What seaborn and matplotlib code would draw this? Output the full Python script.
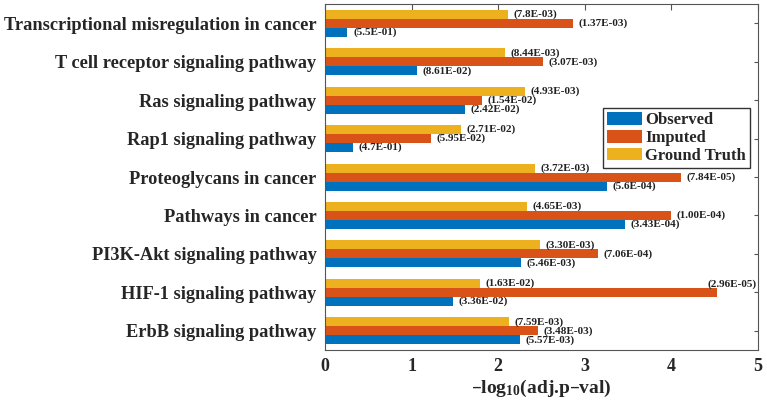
import numpy as np
import pandas as pd
import matplotlib
matplotlib.use("Agg")
import matplotlib.pyplot as plt
import seaborn as sns

# KEGG pathways, listed top to bottom as in the chart
pathways = [
    "Transcriptional misregulation in cancer",
    "T cell receptor signaling pathway",
    "Ras signaling pathway",
    "Rap1 signaling pathway",
    "Proteoglycans in cancer",
    "Pathways in cancer",
    "PI3K-Akt signaling pathway",
    "HIF-1 signaling pathway",
    "ErbB signaling pathway",
]

# adjusted p-values as printed next to the bars
pval_observed = ["5.5E-01", "8.61E-02", "2.42E-02", "4.7E-01", "5.6E-04",
                 "3.43E-04", "5.46E-03", "3.36E-02", "5.57E-03"]
pval_imputed = ["1.37E-03", "3.07E-03", "1.54E-02", "5.95E-02", "7.84E-05",
                "1.00E-04", "7.06E-04", "2.96E-05", "3.48E-03"]
pval_truth = ["7.8E-03", "8.44E-03", "4.93E-03", "2.71E-02", "3.72E-03",
              "4.65E-03", "3.30E-03", "1.63E-02", "7.59E-03"]

series = ["Ground Truth", "Imputed", "Observed"]
colors = {"Observed": "#0072BD", "Imputed": "#D95319", "Ground Truth": "#EDB120"}
pvals = {"Observed": pval_observed, "Imputed": pval_imputed, "Ground Truth": pval_truth}

rows = []
for s in series:
    for p, v in zip(pathways, pvals[s]):
        rows.append({"pathway": p, "series": s, "value": -np.log10(float(v))})
df = pd.DataFrame(rows)

sns.set_style("white")
plt.rcParams["font.family"] = ["Liberation Serif", "DejaVu Serif"]
plt.rcParams["font.weight"] = "bold"
plt.rcParams["mathtext.default"] = "regular"

fig = plt.figure(figsize=(7.67, 4.05), dpi=100)
ax = fig.add_axes([0.4237, 0.1358, 0.5646, 0.854])

sns.barplot(data=df, y="pathway", x="value", hue="series", hue_order=series,
            order=pathways, palette=colors, orient="h", width=0.7,
            saturation=1, linewidth=0, ax=ax)

# p-value labels at the bar ends; one that would run past the axes is
# pulled inside, right-aligned and lifted, as in the original
for cont, s in zip(ax.containers, series):
    labs = []
    for bar, v in zip(cont, pvals[s]):
        if bar.get_width() > 4.4:
            labs.append("")
            ax.annotate(f"({v})", xy=(1.0, bar.get_y() + bar.get_height() / 2),
                        xycoords=("axes fraction", "data"), xytext=(-1, 6),
                        textcoords="offset points", ha="right", va="center",
                        fontsize=8, fontweight="bold", color="#222222")
        else:
            labs.append(f"({v})")
    ax.bar_label(cont, labels=labs, padding=4, fontsize=8,
                 fontweight="bold", color="#222222")

ax.set_xlim(0, 5)
ax.set_ylim(len(pathways) - 0.5, -0.5)
ax.set_xticks([0, 1, 2, 3, 4, 5])
ax.set_ylabel("")
ax.set_xlabel("–log$_{10}$(adj.p–val)", fontsize=14, fontweight="bold",
              labelpad=2)
ax.tick_params(axis="x", labelsize=13, direction="in", top=True, length=4,
               color="#555555", pad=6)
ax.tick_params(axis="y", labelsize=13.2, direction="in", right=True, length=3,
               color="#555555", pad=6)
for sp in ax.spines.values():
    sp.set_visible(True)
    sp.set_color("#555555")
    sp.set_linewidth(0.8)

handles, labels = ax.get_legend_handles_labels()
order = [labels.index(n) for n in ["Observed", "Imputed", "Ground Truth"]]
ax.legend([handles[i] for i in order], [labels[i] for i in order],
          loc="upper left", bbox_to_anchor=(0.642, 0.70), fontsize=12,
          frameon=True, fancybox=False, edgecolor="#333333", framealpha=1,
          handlelength=2.1, handleheight=0.8, borderpad=0.25,
          labelspacing=0.1, handletextpad=0.2, borderaxespad=0)

plt.savefig("out.png", dpi=100)
